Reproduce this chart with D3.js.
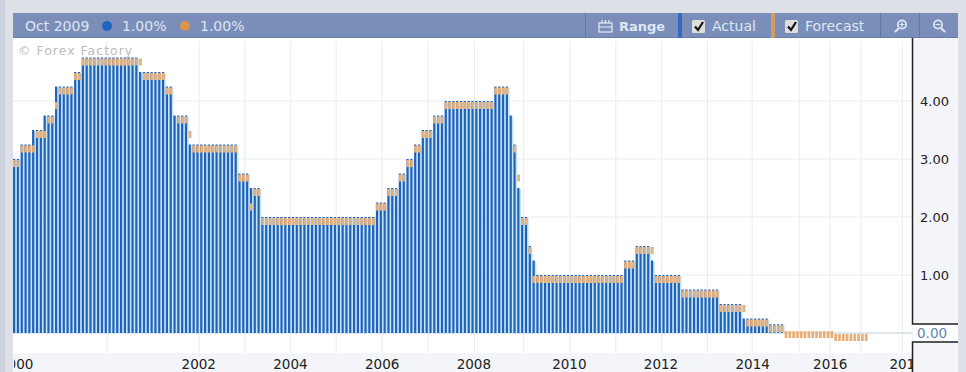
<!DOCTYPE html>
<html>
<head>
<meta charset="utf-8">
<script src="https://cdn.jsdelivr.net/npm/d3@7"></script>
<style>
  html, body { margin: 0; padding: 0; background: #dde0e7; overflow: hidden; }
  svg { display: block; }
  text { font-family: "DejaVu Sans", sans-serif; }
</style>
</head>
<body>
<script>
// one value per rate meeting (null = no bar drawn)
const actualRate = [
  3, 3, 3.25, 3.25, 3.25, 3.5, 3.5, 3.5, 3.75, 3.75, 3.75, 4.25, 4.25, 4.25, 4.25, 4.25, 4.5, 4.5,
  4.75, 4.75, 4.75, 4.75, 4.75, 4.75, 4.75, 4.75, 4.75, 4.75, 4.75, 4.75, 4.75, 4.75, 4.75,
  4.5, 4.5, 4.5, 4.5, 4.5, 4.5, 4.5, 4.25, 4.25, 3.75, 3.75, 3.75, 3.75,
  3.25, 3.25, 3.25, 3.25, 3.25, 3.25, 3.25, 3.25, 3.25, 3.25, 3.25, 3.25, 3.25,
  2.75, 2.75, 2.75, 2.5, 2.5, 2.5,
  2, 2, 2, 2, 2, 2, 2, 2, 2, 2, 2, 2, 2, 2, 2, 2, 2, 2, 2, 2, 2, 2, 2, 2, 2, 2, 2, 2, 2, 2,
  2.25, 2.25, 2.25, 2.5, 2.5, 2.5, 2.75, 2.75, 3, 3, 3.25, 3.25, 3.5, 3.5, 3.5, 3.75, 3.75, 3.75,
  4, 4, 4, 4, 4, 4, 4, 4, 4, 4, 4, 4, 4, 4.25, 4.25, 4.25, 4.25,
  3.75, 3.25, 2.5, 2, 2, 1.5, 1.25,
  1, 1, 1, 1, 1, 1, 1, 1, 1, 1, 1, 1, 1, 1, 1, 1, 1, 1, 1, 1, 1, 1, 1,
  1.25, 1.25, 1.25, 1.5, 1.5, 1.5, 1.5, 1.25, 1, 1, 1, 1, 1, 1, 1,
  0.75, 0.75, 0.75, 0.75, 0.75, 0.75, 0.75, 0.75, 0.75, 0.75,
  0.5, 0.5, 0.5, 0.5, 0.5, 0.5, 0.25, 0.25, 0.25, 0.25, 0.25, 0.25, 0.25,
  0.15, 0.15, 0.15, 0.15,
  null, null, null, null, null, null, null, null, null, null, null, null, null,
  null, null, null, null, null, null, null, null, null
];
const forecastRate = [
  3, 3, 3.25, 3.25, 3.25, 3.25, 3.5, 3.5, 3.5, 3.75, 3.75, 4, 4.25, 4.25, 4.25, 4.25, 4.5, 4.5,
  4.75, 4.75, 4.75, 4.75, 4.75, 4.75, 4.75, 4.75, 4.75, 4.75, 4.75, 4.75, 4.75, 4.75, 4.75,
  4.75, 4.5, 4.5, 4.5, 4.5, 4.5, 4.5, 4.25, 4.25, null, 3.75, 3.75, 3.75,
  3.5, 3.25, 3.25, 3.25, 3.25, 3.25, 3.25, 3.25, 3.25, 3.25, 3.25, 3.25, 3.25,
  2.75, 2.75, 2.75, 2.25, 2.5, 2.5,
  2, 2, 2, 2, 2, 2, 2, 2, 2, 2, 2, 2, 2, 2, 2, 2, 2, 2, 2, 2, 2, 2, 2, 2, 2, 2, 2, 2, 2, 2,
  2.25, 2.25, 2.25, 2.5, 2.5, 2.5, 2.75, 2.75, 3, 3, 3.25, 3.25, 3.5, 3.5, 3.5, 3.75, 3.75, 3.75,
  4, 4, 4, 4, 4, 4, 4, 4, 4, 4, 4, 4, 4, 4.25, 4.25, 4.25, 4.25,
  null, 3.25, 2.75, 2, 2, 1.5, 1,
  1, 1, 1, 1, 1, 1, 1, 1, 1, 1, 1, 1, 1, 1, 1, 1, 1, 1, 1, 1, 1, 1, 1,
  1.25, 1.25, 1.25, 1.5, 1.5, 1.5, 1.5, 1.5, 1, 1, 1, 1, 1, 1, 1,
  0.75, 0.75, 0.75, 0.75, 0.75, 0.75, 0.75, 0.75, 0.75, 0.75,
  0.5, 0.5, 0.5, 0.5, 0.5, 0.5, 0.5, 0.25, 0.25, 0.25, 0.25, 0.25, 0.25,
  0.15, 0.15, 0.15, 0.15,
  0.05, 0.05, 0.05, 0.05, 0.05, 0.05, 0.05, 0.05, 0.05, 0.05, 0.05, 0.05, 0.05,
  0, 0, 0, 0, 0, 0, 0, 0, 0
];
// axis ticks, placed on the meeting index
const yearLabels = ["2000", "2002", "2004", "2006", "2008", "2010", "2012", "2014", "2016", "2018"];
const yearIndex = [0.7, 48.5, 72.5, 96.5, 120.5, 145.5, 169.5, 193.5, 213.8, 233.8];
const gridIndex = [24.6, 48.7, 60.7, 72.7, 84.6, 96.6, 108.6, 120.8, 133.7, 145.8, 157.8, 169.8, 181.8, 193.5, 205.8, 213.9, 222, 232.8];
const rateTicks = [1, 2, 3, 4];
const headerDate = "Oct 2009";
const headerActual = 1;
const headerForecast = 1;

const width = 966, height = 372;
const plotLeft = 13, plotRight = 912, plotTop = 38, plotBottom = 353;
const pitch = 3.82, barW = 2.2, markerW = 2.7, markerH = 7;

const svg = d3.select("body").append("svg").attr("width", width).attr("height", height);

const x = d3.scaleLinear().domain([0, actualRate.length]).range([plotLeft, plotLeft + pitch * actualRate.length]);
const y = d3.scaleLinear().domain([0, 4]).range([333, 101]);

svg.append("clipPath").attr("id", "plot-clip").append("rect")
  .attr("x", plotLeft + 1).attr("y", plotTop).attr("width", plotRight - plotLeft - 1).attr("height", height - plotTop);

// panels behind the chart
svg.append("rect").attr("width", 5).attr("height", height).attr("fill", "#ccd2dd");
svg.append("rect").attr("x", plotLeft).attr("y", plotTop).attr("width", 945).attr("height", height - plotTop).attr("fill", "#f4f5f9");
svg.append("rect").attr("x", plotLeft).attr("y", plotTop).attr("width", plotRight - plotLeft).attr("height", plotBottom - plotTop).attr("fill", "#fff");

// grid
svg.append("g").selectAll("line").data(gridIndex).join("line")
  .attr("x1", d => x(d)).attr("x2", d => x(d))
  .attr("y1", plotTop + 3).attr("y2", plotBottom)
  .attr("stroke", "#e9ecf1").attr("stroke-width", 1);
svg.append("g").selectAll("line").data(rateTicks).join("line")
  .attr("x1", plotLeft).attr("x2", plotRight)
  .attr("y1", d => y(d)).attr("y2", d => y(d))
  .attr("stroke", "#e9ecf1").attr("stroke-width", 1);
svg.append("line").attr("x1", plotLeft).attr("x2", plotRight).attr("y1", y(0)).attr("y2", y(0))
  .attr("stroke", "#c3cbd9").attr("stroke-width", 1);

svg.append("text").attr("x", 18).attr("y", 55).attr("fill", "#bcbcbc")
  .attr("font-size", 12.5).attr("letter-spacing", 1).text("\u00a9 Forex Factory");

// bars: pale band, then the actual bar, then the forecast marker
const meetings = actualRate.map((a, i) => ({ i, a, f: forecastRate[i] }));
const bars = svg.append("g");
bars.selectAll("rect.band").data(meetings.filter(d => d.a !== null)).join("rect")
  .attr("class", "band")
  .attr("x", d => x(d.i)).attr("width", pitch)
  .attr("y", d => y(d.a) + 1).attr("height", d => y(0) - y(d.a) - 1)
  .attr("fill", "#c6e4fb");
bars.selectAll("rect.actual").data(meetings.filter(d => d.a !== null)).join("rect")
  .attr("class", "actual")
  .attr("x", d => x(d.i)).attr("width", barW)
  .attr("y", d => y(d.a)).attr("height", d => y(0) - y(d.a))
  .attr("fill", "#1f62b8");
bars.selectAll("rect.forecast").data(meetings.filter(d => d.f !== null)).join("rect")
  .attr("class", "forecast")
  .attr("x", d => x(d.i)).attr("width", markerW)
  .attr("y", d => y(d.f) + 1).attr("height", markerH)
  .attr("fill", "#e8b078");

// x axis labels
const xAxis = d3.axisBottom(x).tickValues(yearIndex).tickSize(0)
  .tickFormat((d, i) => yearLabels[i]);
svg.append("g").attr("clip-path", "url(#plot-clip)").append("g")
  .attr("transform", `translate(0,${plotBottom + 3})`)
  .call(xAxis)
  .call(g => g.select(".domain").remove())
  .call(g => g.selectAll("text").attr("fill", "#222").attr("font-size", 13.5)
    .attr("font-family", "'DejaVu Sans', sans-serif"));

// y axis labels
const yAxis = d3.axisRight(y).tickValues(rateTicks).tickSize(0).tickFormat(d3.format(".2f"));
svg.append("g").attr("transform", `translate(${plotRight + 5},0)`)
  .call(yAxis)
  .call(g => g.select(".domain").remove())
  .call(g => g.selectAll("text").attr("fill", "#222").attr("font-size", 13)
    .attr("font-family", "'DejaVu Sans', sans-serif"));

// right side frame with the current value box
const frame = svg.append("g").attr("fill", "none").attr("stroke", "#222").attr("stroke-width", 1.5);
frame.append("path").attr("d", `M${plotRight + 0.5},${plotTop}V324H958`);
frame.append("path").attr("d", `M958,342H${plotRight + 0.5}V${height}`);
svg.append("rect").attr("x", plotRight + 1).attr("y", 325).attr("width", 45).attr("height", 16).attr("fill", "#fff");
svg.append("text").attr("x", plotRight + 5).attr("y", y(0) + 5).attr("fill", "#5c86b6")
  .attr("font-size", 13.5).text(d3.format(".2f")(0));

// header strip
const head = svg.append("g");
head.append("rect").attr("x", plotLeft).attr("y", 13).attr("width", 945).attr("height", 25).attr("fill", "#7a8eb9");
head.append("rect").attr("x", plotLeft).attr("y", 37).attr("width", 945).attr("height", 1).attr("fill", "#6a7ea8");

const headText = (px, label, weight, size) => head.append("text").attr("x", px).attr("y", 31)
  .attr("font-size", size || 14).attr("font-weight", weight || "normal").attr("fill", "#dfe6f3").text(label);
headText(25, headerDate);
head.append("circle").attr("cx", 107).attr("cy", 26).attr("r", 5).attr("fill", "#2164bd");
headText(122, d3.format(".2f")(headerActual) + "%");
head.append("circle").attr("cx", 185).attr("cy", 26).attr("r", 5).attr("fill", "#d9964d");
headText(200, d3.format(".2f")(headerForecast) + "%");

head.selectAll("rect.sep").data([585, 880, 919]).join("rect").attr("class", "sep")
  .attr("x", d => d).attr("y", 13).attr("width", 1).attr("height", 24).attr("fill", "#64779f");
head.append("rect").attr("x", 678).attr("y", 13).attr("width", 4).attr("height", 25).attr("fill", "#2d6cc0");
head.append("rect").attr("x", 771).attr("y", 13).attr("width", 4).attr("height", 25).attr("fill", "#d49a5c");

// calendar icon
head.append("rect").attr("x", 599).attr("y", 23).attr("width", 13).attr("height", 9)
  .attr("fill", "none").attr("stroke", "#e8edf6").attr("stroke-width", 1.2);
head.append("path").attr("d", "M599,27H612M602,20V23M609,20V23M605.5,20V23")
  .attr("stroke", "#e8edf6").attr("stroke-width", 1.2);
headText(619, "Range", "bold", 13);

const checkbox = px => {
  head.append("rect").attr("x", px).attr("y", 20).attr("width", 13).attr("height", 13).attr("rx", 1.5).attr("fill", "#dedfdc");
  head.append("path").attr("d", `M${px + 3},${26.5}l3,3.5l5,-8`).attr("fill", "none").attr("stroke", "#111").attr("stroke-width", 2.2);
};
checkbox(692);
headText(712, "Actual");
checkbox(785);
headText(805, "Forecast");

// zoom icons
const lens = (cx, extra) => {
  head.append("circle").attr("cx", cx).attr("cy", 24.5).attr("r", 4.2).attr("fill", "none").attr("stroke", "#dfe6f3").attr("stroke-width", 1.8);
  head.append("path").attr("d", extra).attr("fill", "none").attr("stroke", "#dfe6f3").attr("stroke-width", 1.2);
};
lens(902, "M899.5,24.5H904.5M902,22V27");
head.append("path").attr("d", "M899,28L895,32").attr("stroke", "#dfe6f3").attr("stroke-width", 2.2);
lens(938, "M935.5,24.5H940.5");
head.append("path").attr("d", "M941,28L945,32").attr("stroke", "#dfe6f3").attr("stroke-width", 2.2);
</script>
</body>
</html>
